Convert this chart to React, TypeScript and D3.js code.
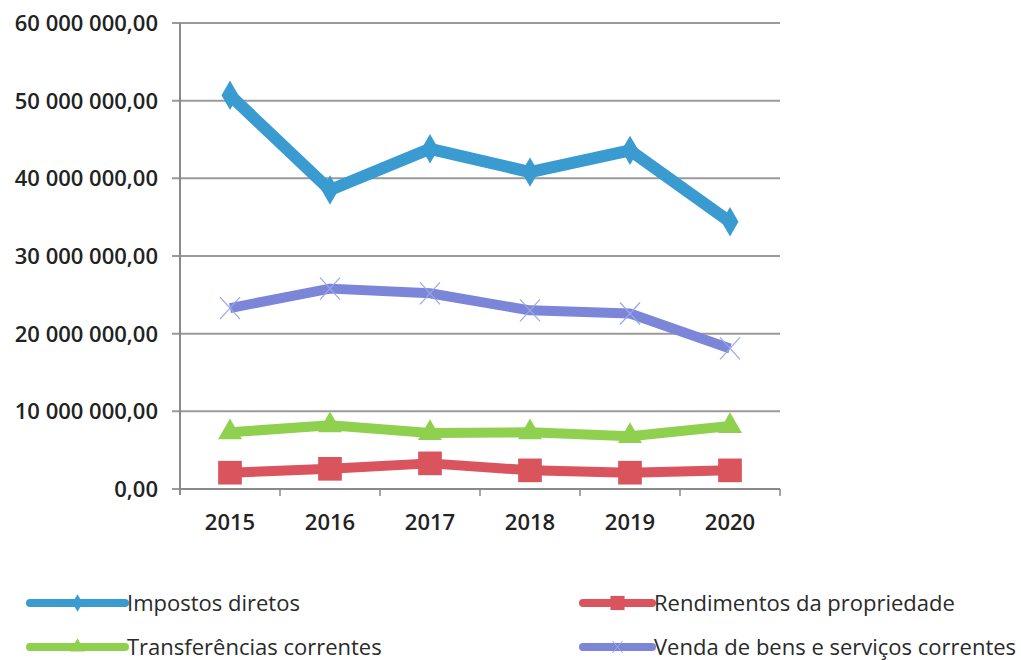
import React from "react";
import * as d3 from "d3";

const years = ["2015", "2016", "2017", "2018", "2019", "2020"];
const impostosDiretos = [50.7e6, 38.5e6, 43.8e6, 40.8e6, 43.6e6, 34.4e6];
const rendimentosPropriedade = [2.1e6, 2.6e6, 3.3e6, 2.4e6, 2.1e6, 2.4e6];
const transferenciasCorrentes = [7.3e6, 8.2e6, 7.2e6, 7.3e6, 6.8e6, 8.1e6];
const vendaBensServicos = [23.3e6, 25.8e6, 25.2e6, 23.0e6, 22.6e6, 18.1e6];
const yTicks = [0, 10e6, 20e6, 30e6, 40e6, 50e6, 60e6];

const series = [
  { name: "Impostos diretos", values: impostosDiretos, color: "#3a9bd1", marker: "diamond" },
  { name: "Rendimentos da propriedade", values: rendimentosPropriedade, color: "#d9545c", marker: "square" },
  { name: "Transferências correntes", values: transferenciasCorrentes, color: "#8fd14f", marker: "triangle" },
  { name: "Venda de bens e serviços correntes", values: vendaBensServicos, color: "#7b86d8", marker: "x" },
];

const W = 1021;
const H = 660;
const margin = { top: 23, right: 241, bottom: 171, left: 180 };
const FONT = "'Open Sans', Lato, sans-serif";

const ptFormat = d3.formatLocale({
  decimal: ",",
  thousands: " ",
  grouping: [3],
  currency: ["", ""],
}).format(",.2f");

function Marker({ type, color, x, y }) {
  if (type === "x") {
    return (
      <g transform={`translate(${x},${y})`} stroke="#9aa6ea" strokeWidth={1.2}>
        <line x1={-10} y1={-11} x2={10} y2={11} />
        <line x1={-10} y1={11} x2={10} y2={-11} />
      </g>
    );
  }
  const sym =
    type === "diamond"
      ? d3.symbol(d3.symbolDiamond, 250)
      : type === "square"
      ? d3.symbol(d3.symbolSquare, 560)
      : d3.symbol(d3.symbolTriangle, 250);
  return <path d={sym() || ""} transform={`translate(${x},${y})`} fill={color} />;
}

export default function App() {
  const x = d3
    .scaleBand()
    .domain(years)
    .range([margin.left, W - margin.right]);
  const y = d3
    .scaleLinear()
    .domain([0, 60e6])
    .range([H - margin.bottom, margin.top]);

  const line = d3
    .line<number>()
    .x((_, i) => (x(years[i]) || 0) + x.bandwidth() / 2)
    .y((d) => y(d));

  const x0 = margin.left;
  const x1 = W - margin.right;
  const yb = y(0);

  const legendPos = [
    { lx: 30, ly: 603 },
    { lx: 583, ly: 603 },
    { lx: 30, ly: 647 },
    { lx: 583, ly: 647 },
  ];

  return (
    <svg
      width={W}
      height={H}
      style={{ position: "absolute", left: 0, top: 0, background: "#fff" }}
      fontFamily={FONT}
    >
      {/* gridlines + y labels */}
      {yTicks.map((t) => (
        <g key={t}>
          <line x1={x0 - 8} x2={x1} y1={y(t)} y2={y(t)} stroke="#9a9a9a" strokeWidth={2} />
          <text
            x={158}
            y={y(t)}
            dy="0.36em"
            textAnchor="end"
            fontSize={22}
            fontWeight={600}
            fill="#222"
          >
            {ptFormat(t)}
          </text>
        </g>
      ))}
      {/* axes */}
      <line x1={x0} x2={x0} y1={y(60e6)} y2={yb + 6} stroke="#8a8a8a" strokeWidth={2} />
      <line x1={x0} x2={x1} y1={yb} y2={yb} stroke="#8a8a8a" strokeWidth={2} />
      {years.map((yr) => (
        <line
          key={"t" + yr}
          x1={(x(yr) || 0) + x.bandwidth()}
          x2={(x(yr) || 0) + x.bandwidth()}
          y1={yb}
          y2={yb + 7}
          stroke="#8a8a8a"
          strokeWidth={1.5}
        />
      ))}
      {years.map((yr) => (
        <text
          key={"l" + yr}
          x={(x(yr) || 0) + x.bandwidth() / 2}
          y={530}
          textAnchor="middle"
          fontSize={22}
          fontWeight={600}
          fill="#222"
        >
          {yr}
        </text>
      ))}
      {/* series */}
      {series.map((s) => (
        <g key={s.name}>
          <path
            d={line(s.values) || ""}
            fill="none"
            stroke={s.color}
            strokeWidth={s.marker === "diamond" ? 12 : 10}
            strokeLinejoin="round"
          />
          {s.values.map((v, i) => (
            <Marker
              key={i}
              type={s.marker}
              color={s.color}
              x={(x(years[i]) || 0) + x.bandwidth() / 2}
              y={y(v)}
            />
          ))}
        </g>
      ))}
      {/* legend */}
      {series.map((s, i) => {
        const { lx, ly } = legendPos[i];
        const len = i % 2 === 0 ? 95 : 69;
        return (
          <g key={"lg" + s.name}>
            <line
              x1={lx}
              x2={lx + len}
              y1={ly}
              y2={ly}
              stroke={s.color}
              strokeWidth={8}
              strokeLinecap="round"
            />
            {s.marker === "x" ? (
              <g transform={`translate(${lx + len / 2},${ly})`} stroke="#9aa6ea" strokeWidth={1}>
                <line x1={-5} y1={-6} x2={5} y2={6} />
                <line x1={-5} y1={6} x2={5} y2={-6} />
              </g>
            ) : (
              <path
                d={
                  (s.marker === "diamond"
                    ? d3.symbol(d3.symbolDiamond, 90)
                    : s.marker === "square"
                    ? d3.symbol(d3.symbolSquare, 200)
                    : d3.symbol(d3.symbolTriangle, 100))() || ""
                }
                transform={`translate(${lx + len / 2},${ly})`}
                fill={s.color}
              />
            )}
            <text
              x={lx + len + 2}
              y={ly}
              dy="0.35em"
              fontSize={22}
              fill="#2a2a2a"
            >
              {s.name}
            </text>
          </g>
        );
      })}
    </svg>
  );
}
